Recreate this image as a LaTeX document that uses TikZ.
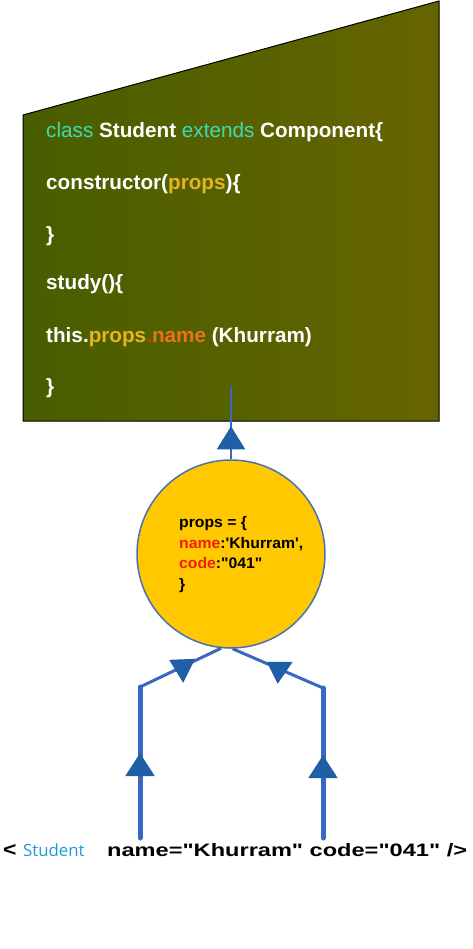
\documentclass[tikz,border=0pt]{standalone}
\usepackage{fontspec}
\usepackage{graphicx}
\setmainfont{Liberation Sans}
\newfontfamily\tagfont{Open Sans}
\usetikzlibrary{arrows.meta,decorations.markings,calc}

\definecolor{boxl}{RGB}{72,94,0}
\definecolor{boxr}{RGB}{102,100,0}
\definecolor{kw}{RGB}{60,220,180}
\definecolor{propy}{RGB}{230,180,30}
\definecolor{nameo}{RGB}{232,115,26}
\definecolor{dotr}{RGB}{210,60,10}
\definecolor{propfill}{RGB}{255,200,0}
\definecolor{propedge}{RGB}{74,114,176}
\definecolor{link}{RGB}{58,102,196}
\definecolor{tri}{RGB}{31,95,166}
\definecolor{keyr}{RGB}{240,30,0}
\definecolor{tagb}{RGB}{30,154,214}

\newcommand\qdbl{\textquotedbl}
\newcommand\qsgl{\textquotesingle}
\newcommand\wide[1]{\scalebox{1.03}[1]{#1}}

\tikzset{
  codeline/.style={anchor=base west,inner sep=0pt,text=white,
    font=\fontsize{20.7}{24}\selectfont},
  uptip/.style={postaction={decorate},decoration={markings,
    mark=at position #1 with {\arrow{Triangle[width=28pt,length=23pt,color=tri]}}}}
}

\begin{document}
\begin{tikzpicture}[x=1pt,y=-1pt]
  \useasboundingbox (0,0) rectangle (473,949);
  % the class
  \draw[line width=1pt,left color=boxl,right color=boxr]
    (23,115) -- (439,1) -- (439,421) -- (23,421) -- cycle;
  \node[codeline] (l1) at (46,138)
    {{\color{kw}class} \textbf{Student} {\color{kw}extends} \textbf{Component\{}};
  \node[codeline] (l2) at (46,190)
    {\textbf{constructor(\textcolor{propy}{props})\{}};
  \node[codeline] (l3) at (46,242) {\textbf{\}}};
  \node[codeline] (l4) at (46,290) {\textbf{study()\{}};
  \node[codeline] (l5) at (46,342)
    {\textbf{this.\textcolor{propy}{props}\textcolor{dotr}{.}\textcolor{nameo}{name} (Khurram)}};
  \node[codeline] (l6) at (46,393) {\textbf{\}}};
  \coordinate (boxin) at (231,387);

  % the props object
  \node[circle,draw=propedge,line width=1.5pt,fill=propfill,
    minimum size=188pt,inner sep=0pt] (props) at (231,554) {};
  \node[anchor=base west,inner sep=0pt,align=left,
    font=\bfseries\fontsize{15.3}{20.5}\selectfont] (propstext) at (179,589)
    {\wide{props = \{}\\
     \wide{\textcolor{keyr}{name}:\qsgl Khurram\qsgl,}\\
     \wide{\textcolor{keyr}{code}:\qdbl 041\qdbl}\\
     \wide{\}}};
  \draw[link,line width=2pt,uptip=33pt] (props.north) -- (boxin);

  % the tag
  \node[anchor=base west,inner sep=0pt,font=\bfseries\fontsize{20}{22}\selectfont]
    (lt) at (3,856) {\scalebox{1.15}[1]{<}};
  \node[anchor=base west,inner sep=0pt,text=tagb,font=\tagfont\fontsize{16.8}{18}\selectfont]
    (tag) at (23,856) {Student};
  \node[anchor=base west,inner sep=0pt,font=\bfseries\fontsize{18}{20}\selectfont]
    (attrs) at (107,856)
    {\scalebox{1.31}[1]{name=\qdbl Khurram\qdbl{} code=\qdbl 041\qdbl{} />}};

  % the two attributes going up
  \coordinate (lfoot) at (140,838);
  \coordinate (lknee) at (140,687);
  \coordinate (rfoot) at (323,838);
  \coordinate (rknee) at (323,688);
  \draw[link,line width=5pt,line cap=round,uptip=85pt] (lfoot) -- (lknee);
  \draw[link,line width=5pt,line cap=round,uptip=83pt] (rfoot) -- (rknee);
  \draw[link,line width=3pt] (lknee) -- (props.-96) coordinate[pos=0.52] (lmark);
  \draw[link,line width=3pt] (rknee) -- (props.-89) coordinate[pos=0.49] (rmark);
  \fill[tri] ($(lmark)+(-13,-7)$) -- ($(lmark)+(13,-8)$) -- ($(lmark)+(1,16)$) -- cycle;
  \fill[tri] ($(rmark)+(-12,-7)$) -- ($(rmark)+(14,-7)$) -- ($(rmark)+(-1,15)$) -- cycle;
\end{tikzpicture}
\end{document}
